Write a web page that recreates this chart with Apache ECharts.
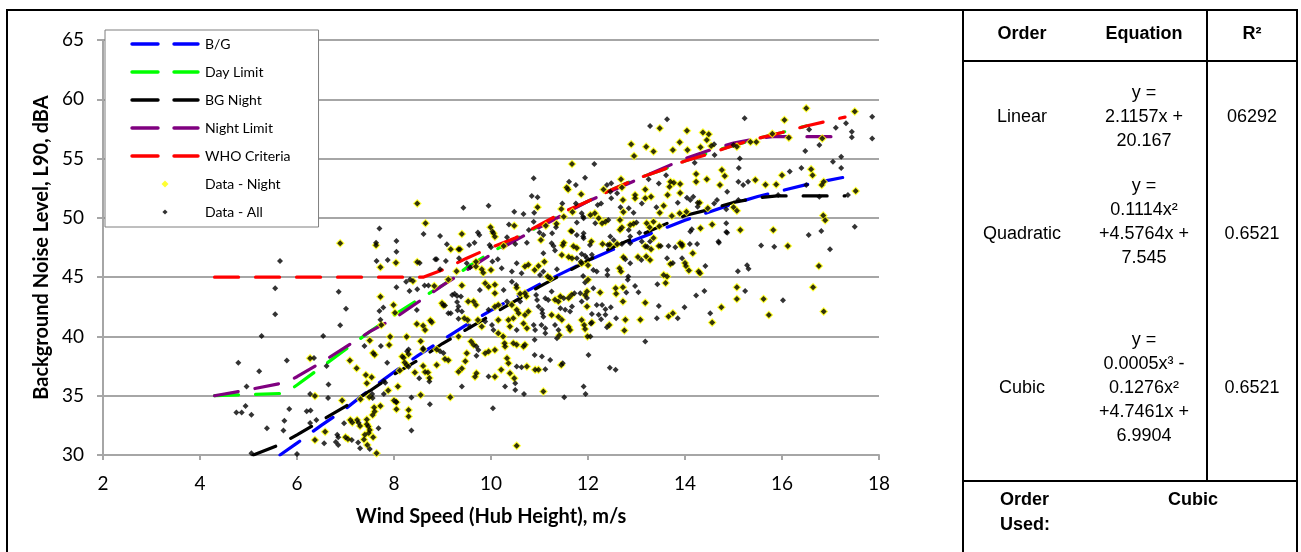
<!DOCTYPE html>
<html><head><meta charset="utf-8">
<script src="https://cdn.jsdelivr.net/npm/echarts@6/dist/echarts.min.js"></script>
<style>html,body{margin:0;padding:0;background:#fff;}#chart{width:1301px;height:552px;}</style>
</head><body><div id="chart"></div>
<script>
// ---------- DATA ----------
const xTitle = 'Wind Speed (Hub Height), m/s';
const yTitle = 'Background Noise Level, L90, dBA';
const legendNames = ['B/G', 'Day Limit', 'BG Night', 'Night Limit', 'WHO Criteria', 'Data - Night', 'Data - All'];

const bgLine = [[5.65,30.0],[6,31.0],[6.5,32.5],[7,33.9],[7.5,35.5],[8,37.0],[8.5,38.4],[9,39.7],[9.5,41.0],[10,42.2],[10.5,43.3],[11,44.4],[11.5,45.4],[12,46.4],[12.5,47.3],[13,48.2],[13.5,49.0],[14,49.8],[14.5,50.5],[15,51.2],[15.5,51.8],[16,52.3],[16.5,52.8],[17.25,53.4]];
const dayLimit = [[4.3,35.0],[5.75,35.2],[6,35.9],[6.5,37.4],[7,38.9],[7.5,40.4],[8,41.8],[8.5,43.1],[9,44.3],[9.5,45.8],[10,47.1],[10.5,48.2],[11,49.3],[11.5,50.4],[12,51.4],[12.5,52.4],[13,53.3],[13.5,54.0],[14,54.8],[14.5,55.5],[15,56.1],[15.5,56.7],[16,57.2],[16.5,57.75]];
const bgNight = [[5.1,30.0],[5.6,30.8],[6,31.7],[6.5,32.9],[7,34.1],[7.5,35.4],[8,36.8],[8.5,38.0],[9,39.4],[9.5,40.6],[10,41.8],[10.5,43.0],[11,44.2],[11.5,45.3],[12,46.4],[12.5,47.5],[13,48.4],[13.5,49.3],[14,50.2],[14.5,50.7],[15,51.3],[15.5,51.7],[15.9,51.85],[17.3,51.85]];
const nightLimit = [[4.3,35.0],[5,35.5],[5.75,36.1],[6,36.6],[6.5,37.8],[7,39.1],[7.5,40.4],[8,41.5],[8.5,42.9],[9,44.3],[9.5,45.6],[10,46.9],[10.5,48.1],[11,49.2],[11.5,50.3],[12,51.4],[12.5,52.3],[13,53.2],[13.5,54.1],[14,55.0],[14.5,55.7],[15,56.3],[15.5,56.7],[15.8,56.85],[17.25,56.85]];
const whoCriteria = [[4.3,45.0],[8.6,45.0],[9,45.6],[9.5,46.6],[10,47.5],[10.5,48.3],[11,49.4],[11.5,50.5],[12,51.4],[12.5,52.4],[13,53.3],[13.5,54.0],[14,54.8],[14.5,55.4],[15,56.1],[15.5,56.7],[16,57.2],[16.5,57.75],[17.3,58.5]];

// night-time measurements (yellow)
const nightData = [
[6.27,38.16],[6.37,34.98],[6.58,31.97],[6.37,31.27],
[8.48,51.22],[8.65,49.54],[6.89,47.85],[7.63,47.7],[8.04,46.22],[7.72,45.83],[8.48,46.28],[9.17,47.35],[9.33,47.35],[8.39,44.67],[8.83,44.25],[9.12,44.8],[9.29,45.5],[7.72,43.35],[7.99,42.65],[8.02,42.0],[8.99,42.8],[9.02,42.6],[8.75,41.35],[8.78,41.2],[8.47,41.05],[7.74,40.97],[8.6,40.9],
[8.64,40.55],[7.92,39.98],[8.26,39.98],[7.5,39.65],[7.9,39.28],[7.57,38.6],[7.6,38.45],[8.17,38.3],[8.2,38.2],[8.3,38.5],[8.22,37.8],[8.26,37.6],[8.12,37.12],[8.55,39.6],[8.6,38.9],[8.88,38.9],[9.05,38.1],[9.12,38.0],[8.88,37.6],[8.6,37.5],[8.64,37.0],[8.7,36.95],[8.73,36.5],[8.43,36.95],[9.33,37.03],[7.09,37.96],[7.23,37.31],[7.42,36.75],[7.54,36.56],[7.44,36.05],[8.08,35.77],[7.88,35.43],[7.49,34.9],[7.31,34.7],[6.93,34.59],[8.0,34.6],[8.05,34.45],[8.55,35.07],[9.16,34.87],[7.72,34.14],[7.59,34.0],[7.6,33.66],[8.05,33.86],[8.3,33.8],[8.3,33.25],[7.1,32.95],[7.14,32.75],[7.24,32.95],[7.44,33.0],[7.44,32.6],[7.56,33.38],[7.3,32.45],[7.47,32.4],[7.5,32.1],[7.48,31.85],[7.0,31.5],[7.05,31.35],[7.4,31.7],[7.38,31.3],[7.57,31.5],[7.45,30.85],[7.64,30.15],
[9.40,48.64],[10.05,48.7],[10.08,48.4],[9.36,47.35],[10.26,47.63],[11.03,48.14],[11.5,47.9],[11.48,47.7],[11.7,47.6],[11.77,47.45],[11.46,46.87],[11.6,46.7],[11.67,46.6],[9.69,46.3],[9.69,45.9],[9.81,45.66],[9.84,45.38],[10.0,45.6],[10.7,45.9],[10.77,46.05],[10.9,45.6],[10.98,45.95],[11.1,46.3],[11.17,45.05],[11.22,44.9],[9.4,44.3],[9.88,44.48],[9.95,44.2],[10.08,44.35],[10.08,43.64],[10.53,44.1],[10.6,43.6],[10.7,43.65],[10.73,43.38],[11.32,43.1],[11.39,42.94],[11.43,43.36],[11.6,43.25],[11.66,43.5],[9.53,42.94],[9.64,42.94],[9.69,42.66],[10.08,42.5],[10.15,42.66],[10.43,42.66],[10.53,42.24],[10.57,41.95],[10.7,41.8],[10.77,42.1],[11.25,41.81],[11.39,41.67],[11.46,41.4],[11.6,40.8],[11.63,40.55],[9.45,41.53],[9.52,41.39],[9.73,41.39],[9.81,40.83],[10.15,41.39],[10.36,41.39],[10.39,40.83],[10.46,41.53],[10.67,41.1],[10.74,40.69],[10.15,40.27],[10.25,39.99],[10.46,39.43],[10.53,39.29],[10.67,39.15],[10.7,39.29],[11.41,40.1],[9.33,39.99],[9.59,39.57],[9.64,39.29],[9.5,38.58],[9.47,37.9],[9.88,38.58],[9.95,38.72],[10.08,38.86],[10.28,39.43],[10.29,39.15],[10.33,38.16],[10.36,37.74],[11.45,37.6],[10.74,37.46],[10.21,37.18],[10.91,37.18],[10.98,37.18],[10.08,36.6],[10.39,36.9],[10.48,36.48],[9.7,36.9],[9.67,36.6],[9.4,37.3],
[10.53,30.77],[11.08,35.35],
[15.07,44.15],[15.07,43.16],[15.62,43.16],[15.73,41.8],[16.64,44.15],[16.76,45.95],[16.86,42.1],[16.12,47.63],[15.14,48.98],[15.82,48.98],
[12.3,47.8],[12.45,47.75],[12.6,47.8],[13.18,47.6],[13.3,47.35],[13.9,47.86],[13.94,47.63],[13.03,46.7],[12.73,46.68],[13.2,46.74],[13.28,46.45],[13.7,46.1],[14.0,46.2],[14.02,45.95],[14.08,45.55],[14.16,47.02],[14.28,45.47],[14.31,45.33],[11.87,46.17],[12.0,46.0],[12.65,45.75],[12.68,45.47],[13.56,45.19],[13.63,45.05],[13.6,44.5],[12.0,44.77],[11.98,43.78],[11.94,43.5],[12.25,43.7],[12.57,44.06],[12.58,43.59],[12.72,44.15],[12.72,42.94],[11.98,42.52],[12.77,41.4],[12.75,40.5],[13.18,42.85],[13.08,41.4],[13.66,41.68],[13.75,41.96],[14.75,42.46],[14.56,41.17],[11.87,41.39],[11.92,40.97],[12.08,41.17],[12.44,40.97],[11.94,40.62],[11.99,40.0],
[13.48,57.55],[14.04,57.35],[14.37,57.2],[14.49,57.05],[14.45,56.56],[14.54,56.06],[13.89,56.37],[14.05,55.72],[14.32,55.95],[12.89,56.2],[12.95,55.22],[13.2,56.0],[13.35,55.6],[13.75,55.72],[14.76,54.03],[14.82,53.53],[14.72,52.77],[14.23,53.7],[14.23,53.05],[14.45,53.25],[13.9,52.85],[13.7,53.05],[13.77,52.97],[13.68,52.63],[13.64,51.93],[13.9,52.1],[13.18,52.4],[13.3,51.79],[13.56,51.03],[13.48,50.44],[13.73,50.16],[14.3,51.28],[14.03,50.52],[13.89,50.38],[14.47,50.8],[14.56,49.45],[14.32,49.12],[13.94,47.77],[13.46,47.63],[13.35,48.3],[12.94,49.5],[12.66,49.0],[12.07,48.0],[12.05,50.24],[12.29,49.54],[12.36,49.68],[12.66,49.82],[12.7,49.19],[12.87,49.4],[13.21,49.54],[13.27,49.2],[13.35,49.68],[13.47,49.3],[12.73,50.5],[12.72,51.5],[12.14,50.38],[12.22,49.96],[12.32,52.4],[12.68,53.25],[12.7,52.57],[12.97,51.93],[12.97,51.65],[13.18,51.65],
[11.67,54.54],[11.56,52.55],[11.59,52.4],[11.86,52.0],[10.96,50.9],[11.45,50.75],[11.5,50.1],[11.68,50.5],[9.99,49.2],[10.48,49.34],[11.13,49.34],[11.65,48.9],[11.35,49.5],
[15.07,56.0],[15.35,56.4],[15.47,56.4],[15.45,53.2],[15.66,52.8],[15.8,57.1],[16.05,58.25],[15.88,52.82],[16.0,53.6],[16.14,56.76],[16.5,59.24],[16.6,54.1],[16.63,53.6],[16.83,56.7],[16.86,53.05],[16.82,52.77],[16.85,50.2],[16.89,49.8],[17.5,58.96],[17.52,52.26],[15.0,50.9],[15.07,50.6]
];

// remaining measurements (black only)
const otherData = [
[5.65,46.36],[5.55,44.06],[5.55,41.87],[5.27,40.04],[6.54,40.04],[5.79,37.96],[4.79,37.77],[5.22,37.07],[4.96,35.77],[4.94,34.14],[4.75,33.58],[4.86,33.58],[5.06,33.39],[5.84,33.87],[5.74,32.88],[5.38,32.26],[5.72,32.06],[5.06,30.15],[6.0,30.09],[6.35,38.19],[6.61,37.5],[6.65,35.94],[6.27,35.15],[6.64,34.8],[6.2,33.7],[6.28,33.75],[6.4,32.96],[6.27,32.7],[6.56,30.99],
[8.61,48.64],[7.70,49.11],[7.63,47.9],[8.05,48.05],[8.05,47.15],[7.64,46.36],[7.87,46.44],[8.53,46.2],[8.85,46.5],[8.88,46.5],[9.07,46.36],[8.95,48.47],[9.09,47.77],[8.95,45.66],[8.25,44.62],[8.33,44.81],[8.05,44.14],[8.32,43.83],[8.48,43.97],[8.63,44.3],[8.71,44.3],[6.86,43.77],[7.01,42.34],[7.78,42.45],[7.70,42.14],[8.47,42.23],[9.2,43.5],[9.25,43.6],[9.3,43.4],[9.05,42.6],[9.3,42.9],[9.31,42.2],[9.12,41.95],[9.17,41.95],[6.89,40.94],[7.72,41.4],[9.33,41.5],
[7.39,39.2],[7.73,39.2],[8.3,38.9],[8.27,38.75],[8.3,37.45],[8.6,39.0],[8.95,38.75],[9.02,38.6],[8.73,36.2],[8.52,36.47],[7.86,37.79],[7.79,36.25],[7.82,36.1],[7.79,35.15],[7.55,35.15],[7.56,34.8],[8.04,34.5],[8.36,34.84],[8.74,34.28],[6.97,32.68],[7.27,32.72],[7.68,32.26],[6.83,31.7],[6.85,31.5],[6.8,31.1],[6.85,30.85],[7.13,31.27],[7.26,31.05],[7.3,30.57],[7.5,30.5],[8.36,32.06],
[9.73,48.76],[9.76,48.56],[10.33,48.36],[11.0,48.76],[11.08,48.56],[11.26,48.7],[11.67,48.84],[11.77,48.56],[11.91,48.28],[9.55,47.72],[9.66,47.91],[9.97,47.72],[10.0,47.52],[10.5,47.8],[10.74,47.9],[11.25,47.85],[11.29,47.63],[11.32,47.24],[11.08,47.01],[11.77,46.6],[11.87,46.96],[9.34,46.6],[9.5,46.17],[9.57,45.83],[10.03,46.31],[10.14,46.5],[10.22,45.75],[10.43,45.47],[10.53,46.17],[10.63,45.33],[11.01,45.19],[11.08,45.47],[11.36,45.66],[11.85,46.3],[9.77,43.92],[10.26,43.92],[10.43,44.62],[10.52,44.34],[10.93,43.5],[10.95,43.08],[11.12,43.22],[11.18,43.08],[11.25,43.78],[11.5,43.22],[11.72,43.64],[11.84,43.64],[11.87,42.94],[9.38,43.36],[9.33,42.52],[9.4,42.1],[9.95,42.24],[10.33,42.94],[10.6,42.94],[10.98,42.52],[11.05,42.24],[11.06,41.95],[11.08,41.67],[11.43,42.38],[11.53,42.24],[11.67,42.52],[11.63,42.1],[9.57,40.83],[9.88,41.25],[10.02,40.97],[10.05,40.55],[10.53,40.55],[10.88,40.97],[10.91,40.55],[11.04,40.97],[11.12,40.69],[11.32,40.97],[11.39,40.55],[10.9,39.71],[11.12,40.27],[11.36,39.85],[9.7,39.15],[9.74,38.86],[9.7,38.36],[10.9,38.44],[11.05,38.3],[11.22,38.02],[11.48,37.74],[10.53,37.46],[10.63,37.4],[11.12,37.23],[9.95,36.62],[10.5,36.05],[9.4,35.77],[10.29,35.77],
[10.04,33.94],[10.5,35.49],[10.68,35.15],[11.51,34.87],[11.95,35.15],
[15.24,43.84],[16.02,43.05],[16.55,48.56],[16.81,48.9],[16.99,47.35],[15.57,47.66],[15.84,47.57],[15.28,46.0],[15.31,45.7],[15.09,45.5],[14.85,48.8],
[12.04,47.72],[12.41,47.72],[12.7,47.8],[12.87,47.86],[13.11,48.0],[13.5,47.63],[13.66,47.63],[13.8,47.52],[14.1,47.8],[14.7,47.9],[12.77,46.51],[12.87,46.17],[13.1,46.45],[13.63,46.6],[13.75,46.2],[13.94,46.6],[14.42,45.95],[11.94,46.8],[11.98,46.6],[12.08,46.88],[12.11,45.61],[12.18,45.47],[12.4,45.61],[12.4,45.19],[12.83,45.05],[12.82,44.77],[13.43,44.4],[11.9,45.1],[11.94,44.54],[12.11,44.07],[12.79,43.7],[12.97,44.26],[13.04,43.73],[11.98,43.24],[12.18,42.66],[12.29,42.66],[12.36,42.3],[12.47,42.46],[12.22,41.82],[12.36,41.82],[12.27,41.45],[12.08,41.9],[12.58,41.53],[13.46,42.57],[13.42,41.54],[13.85,41.54],[13.99,42.46],[14.23,43.45],[14.4,43.84],[14.52,41.96],[12.06,41.1],[12.39,40.78],[12.05,39.99],[13.18,39.57],[12.01,38.44],[12.45,37.35],[12.57,37.18],[11.91,35.77],
[13.28,57.74],[13.63,58.31],[14.6,56.2],[14.2,54.65],[14.61,55.3],[14.87,52.21],[13.61,53.6],[13.46,52.9],[13.25,53.25],[13.11,51.22],[13.41,50.89],[13.85,51.28],[14.04,51.7],[14.11,51.5],[14.17,51.78],[14.26,51.28],[14.26,50.94],[14.66,51.5],[14.6,51.22],[14.85,50.72],[14.85,49.54],[14.87,48.75],[14.69,48.0],[14.25,47.8],[14.11,48.84],[14.14,49.03],[13.22,47.57],[13.28,48.0],[13.0,49.6],[13.06,48.75],[12.84,48.98],[12.87,48.42],[12.46,48.42],[12.53,48.14],[12.15,49.54],[11.91,49.96],[11.91,48.7],[11.9,48.42],[12.42,49.82],[12.67,50.89],[12.84,50.8],[12.94,50.44],[12.46,52.21],[12.6,52.07],[12.48,51.65],[12.39,52.77],[12.48,52.91],[12.27,51.22],[12.2,51.08],[11.87,50.38],[11.9,50.1],[11.94,53.39],[12.13,54.54],
[10.88,53.33],[11.61,53.05],[11.75,52.77],[9.43,50.86],[9.95,51.03],[10.84,51.85],[10.96,51.73],[10.48,50.52],[10.67,50.33],[10.89,50.44],[11.47,51.22],[11.75,51.22],[10.03,48.84],[10.37,49.45],[10.78,48.98],[10.88,49.68],[11.34,49.2],[11.77,49.6],
[15.0,56.15],[15.23,58.4],[15.13,55.0],[15.11,54.2],[15.1,53.05],[15.2,52.77],[15.3,53.05],[15.1,51.5],[15.92,51.93],[16.16,53.9],[16.48,55.64],[16.56,57.46],[16.4,54.2],[16.5,52.77],[16.77,51.79],[16.77,56.14],[17.11,57.6],[17.32,57.97],[17.05,54.74],[17.22,55.16],[17.22,54.2],[17.36,51.93],[17.44,56.8],[17.44,57.27],[17.5,49.26],[17.86,58.53],[17.86,56.7]
];

// regression table
const tableHeader = ['Order', 'Equation', 'R²'];
const fitOrders = ['Linear', 'Quadratic', 'Cubic'];
const fitEquations = [
  ['y =', '2.1157x +', '20.167'],
  ['y =', '0.1114x²', '+4.5764x +', '7.545'],
  ['y =', '0.0005x³ -', '0.1276x²', '+4.7461x +', '6.9904']
];
const fitR2 = ['06292', '0.6521', '0.6521'];
const orderUsedLabel = ['Order', 'Used:'];
const orderUsedValue = 'Cubic';

// ---------- CHART ----------
const allData = nightData.concat(otherData);
const chart = echarts.init(document.getElementById('chart'), null, {renderer: 'canvas'});

const FONT = 'Lato, "Liberation Sans", sans-serif';
const TFONT = '"Liberation Sans", Arial, sans-serif';
const dash = [24, 17];
const lineColors = {'B/G': '#0000ff', 'Day Limit': '#00ff00', 'BG Night': '#000000', 'Night Limit': '#800080', 'WHO Criteria': '#ff0000'};

function lineSeries(name, data) {
  const color = lineColors[name];
  return {
    name: name, type: 'line', data: data, symbol: 'none', showSymbol: false,
    smooth: false, silent: true, z: 2,
    lineStyle: {color: color, width: 3.2, type: dash, cap: 'round'},
    itemStyle: {color: color}
  };
}

function svgIcon(inner) {
  const svg = '<svg xmlns="http://www.w3.org/2000/svg" width="70" height="14">' + inner + '</svg>';
  return 'image://data:image/svg+xml;charset=utf-8,' + encodeURIComponent(svg);
}
function dashIcon(color) {
  return svgIcon('<g stroke="' + color + '" stroke-width="3.4" stroke-linecap="round">' +
    '<line x1="2" y1="7" x2="28" y2="7"/><line x1="44" y1="7" x2="68" y2="7"/></g>');
}
function diamondIcon(fill, half) {
  const c = 35, m = 7;
  return svgIcon('<path d="M' + c + ' ' + (m - half) + ' L' + (c + half) + ' ' + m + ' L' + c + ' ' + (m + half) + ' L' + (c - half) + ' ' + m + ' Z" fill="' + fill + '"/>');
}

function txt(s, x, y, font, align) {
  return {
    type: 'text', x: x, y: y, z: 20, silent: true,
    style: {text: s, font: font, fill: '#000', textAlign: align || 'center', textVerticalAlign: 'middle', align: align || 'center', verticalAlign: 'middle'}
  };
}
function hline(x1, x2, y) {
  return {type: 'line', z: 20, silent: true, shape: {x1: x1, y1: y, x2: x2, y2: y}, style: {stroke: '#000', lineWidth: 2}};
}
function vline(x, y1, y2) {
  return {type: 'line', z: 20, silent: true, shape: {x1: x, y1: y1, x2: x, y2: y2}, style: {stroke: '#000', lineWidth: 2}};
}

const graphics = [
  {type: 'rect', z: 20, silent: true, shape: {x: 7, y: 10, width: 956, height: 560}, style: {fill: 'none', stroke: '#000', lineWidth: 2}},
  {type: 'rect', z: 20, silent: true, shape: {x: 963, y: 10, width: 334, height: 560}, style: {fill: 'none', stroke: '#000', lineWidth: 2}},
  hline(963, 1297, 61), vline(1207, 10, 481), hline(963, 1297, 481)
];
const colX = [1022, 1144, 1252];
const hdrFont = 'bold 18px ' + TFONT;
const bodyFont = '18px ' + TFONT;
tableHeader.forEach(function (h, i) { graphics.push(txt(h, colX[i], 34, hdrFont)); });
const rowCenters = [117, 234, 388];
const rowMid = [1, 2, 2];
const LH = 24;
fitOrders.forEach(function (o, r) {
  graphics.push(txt(o, colX[0], rowCenters[r], bodyFont));
  graphics.push(txt(fitR2[r], colX[2], rowCenters[r], bodyFont));
  fitEquations[r].forEach(function (line, k) {
    graphics.push(txt(line, colX[1], rowCenters[r] + (k - rowMid[r]) * LH, bodyFont));
  });
});
orderUsedLabel.forEach(function (s, k) { graphics.push(txt(s, 1000, 500 + k * 25, hdrFont, 'left')); });
graphics.push(txt(orderUsedValue, 1193, 500, hdrFont));

const legendIcons = {
  'B/G': dashIcon('#0000ff'), 'Day Limit': dashIcon('#00ff00'), 'BG Night': dashIcon('#000000'),
  'Night Limit': dashIcon('#800080'), 'WHO Criteria': dashIcon('#ff0000'),
  'Data - Night': diamondIcon('#ffff00', 3.5), 'Data - All': diamondIcon('#000000', 2.6)
};

const gridColor = '#a6a6a6';
const option = {
  animation: false,
  backgroundColor: '#fff',
  grid: {left: 103, top: 40, width: 776, height: 415, containLabel: false},
  legend: {
    data: legendNames.map(function (n) { return {name: n, icon: legendIcons[n]}; }),
    orient: 'vertical', left: 105, top: 30,
    itemWidth: 70, itemHeight: 14, itemGap: 14,
    padding: [7, 28, 8, 25],
    backgroundColor: '#fff', borderColor: '#7f7f7f', borderWidth: 1,
    textStyle: {fontFamily: FONT, fontSize: 14, color: '#000', lineHeight: 14},
    selectedMode: false
  },
  xAxis: {
    type: 'value', min: 2, max: 18, interval: 2,
    name: xTitle, nameLocation: 'middle', nameGap: 52,
    nameTextStyle: {fontFamily: FONT, fontSize: 20, fontWeight: 'bold', color: '#000'},
    axisLine: {show: true, lineStyle: {color: gridColor, width: 2}},
    axisTick: {show: true, length: 5, lineStyle: {color: gridColor, width: 2}},
    axisLabel: {fontFamily: FONT, fontSize: 19, color: '#000', margin: 19},
    splitLine: {show: false}
  },
  yAxis: {
    type: 'value', min: 30, max: 65, interval: 5,
    name: yTitle, nameLocation: 'middle', nameGap: 51,
    nameTextStyle: {fontFamily: FONT, fontSize: 20, fontWeight: 'bold', color: '#000'},
    axisLine: {show: true, lineStyle: {color: gridColor, width: 2}},
    axisTick: {show: true, length: 6, lineStyle: {color: gridColor, width: 2}},
    axisLabel: {fontFamily: FONT, fontSize: 19, color: '#000', margin: 19},
    splitLine: {show: true, lineStyle: {color: gridColor, width: 2}}
  },
  series: [
    lineSeries('B/G', bgLine),
    lineSeries('Day Limit', dayLimit),
    lineSeries('BG Night', bgNight),
    lineSeries('Night Limit', nightLimit),
    lineSeries('WHO Criteria', whoCriteria),
    {name: 'Data - Night', type: 'scatter', data: nightData, symbol: 'diamond', symbolSize: 9, z: 3, silent: true,
     itemStyle: {color: '#ffff00'}},
    {name: 'Data - All', type: 'scatter', data: allData, symbol: 'diamond', symbolSize: 6, z: 4, silent: true,
     itemStyle: {color: '#000000'}}
  ],
  graphic: {elements: graphics}
};
chart.setOption(option);
</script>
</body></html>
